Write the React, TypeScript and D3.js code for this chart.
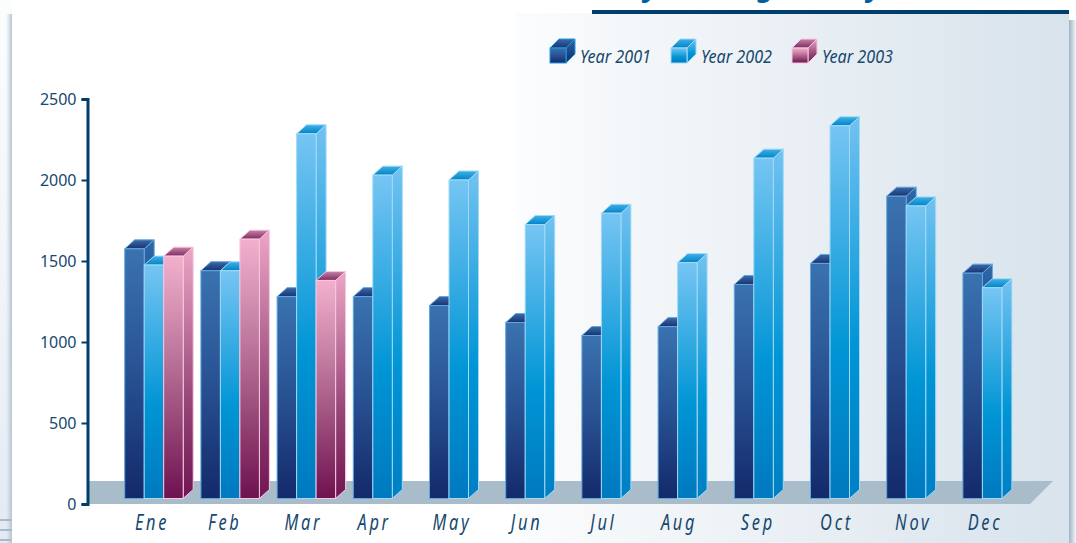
import React, { useRef, useEffect } from 'react';
import * as d3 from 'd3';

const months = ['Ene', 'Feb', 'Mar', 'Apr', 'May', 'Jun', 'Jul', 'Aug', 'Sep', 'Oct', 'Nov', 'Dec'];
const seriesNames = ['Year 2001', 'Year 2002', 'Year 2003'];
const year2001 = [1575, 1440, 1280, 1280, 1225, 1120, 1040, 1095, 1355, 1485, 1900, 1425];
const year2002 = [1475, 1440, 2285, 2030, 2000, 1725, 1795, 1490, 2135, 2335, 1840, 1335];
const year2003 = [1530, 1635, 1380];
const yTicks = [0, 500, 1000, 1500, 2000, 2500];

// colores de cada serie: cara frontal, cara lateral, tapa, borde
const palette = [
  {
    front: [[0, '#3a72b0'], [0.5, '#285192'], [1, '#13296a']],
    side: [[0, '#2f66a6'], [1, '#13296a']],
    top: ['#3a6aa8', '#1a3272'],
    edge: '#5fa8de',
    legendEdge: '#1d9be0',
  },
  {
    front: [[0, '#76c5f3'], [0.6, '#0095d5'], [1, '#0079bf']],
    side: [[0, '#72c2f1'], [0.6, '#0095d5'], [1, '#007fc4']],
    top: ['#3fb0e8', '#0083c6'],
    edge: '#a2daf6',
    legendEdge: '#a2daf6',
  },
  {
    front: [[0, '#f3b0cd'], [0.35, '#c47ea3'], [0.6, '#a25682'], [1, '#6e1150']],
    side: [[0, '#eca6c5'], [0.6, '#97487a'], [1, '#701552']],
    top: ['#c983a8', '#7c2a60'],
    edge: '#f8c8de',
    legendEdge: '#f8c8de',
  },
];

const W = 1076;
const H = 543;
const DEPTH_X = 10;
const DEPTH_Y = 9;

const App = () => {
  const svgRef = useRef<SVGSVGElement>(null);

  useEffect(() => {
    const svg = d3.select(svgRef.current);
    svg.selectAll('*').remove();

    const defs = svg.append('defs');

    const addGradient = (id, stops, x2 = 0, y2 = 1) => {
      const g = defs.append('linearGradient').attr('id', id)
        .attr('x1', 0).attr('y1', 0).attr('x2', x2).attr('y2', y2);
      stops.forEach(([o, c, a]) => {
        const s = g.append('stop').attr('offset', o).attr('stop-color', c);
        if (a !== undefined) s.attr('stop-opacity', a);
      });
    };

    palette.forEach((p, i) => {
      addGradient(`front${i}`, p.front);
      addGradient(`side${i}`, p.side);
      addGradient(`top${i}`, [[0, p.top[0]], [1, p.top[1]]]);
    });
    addGradient('panel', [[0, '#ffffff'], [0.475, '#ffffff'], [0.48, '#fbfcfd'], [1, '#d8e3ec']], 1, 0);
    addGradient('outerLeft', [[0, '#fbfdfd'], [0.5, '#f1f5f9'], [1, '#e3eaf3']]);
    addGradient('shadowLeft', [[0, '#c2cfd9', 0], [1, '#b4c4d2', 1]], 1, 0);
    addGradient('shadowRight', [[0, '#9fb3c6'], [1, '#f2f5f8']], 1, 0);

    // fondo de la pagina
    svg.append('rect').attr('width', W).attr('height', H).attr('fill', '#ffffff');
    svg.append('rect').attr('width', 12).attr('height', H).attr('fill', 'url(#outerLeft)');
    svg.append('rect').attr('x', 6).attr('y', 14).attr('width', 6).attr('height', H - 14).attr('fill', 'url(#shadowLeft)');
    svg.append('rect').attr('x', 1069).attr('y', 20).attr('width', 7).attr('height', H - 20).attr('fill', 'url(#shadowRight)');
    d3.range(3).forEach(i => {
      svg.append('rect').attr('x', 0).attr('y', 519 + i * 10).attr('width', 12).attr('height', 2).attr('fill', '#a9bac9');
    });

    // panel
    svg.append('rect').attr('x', 12).attr('y', 13).attr('width', 1057).attr('height', H - 13).attr('fill', 'url(#panel)');

    // restos del titulo recortado
    svg.append('g').attr('font-family', '"Noto Sans", sans-serif').attr('font-weight', 700).attr('font-style', 'italic')
      .attr('font-size', 30).attr('fill', '#00609f')
      .selectAll('text').data([['y', 644], ['g', 757], ['y', 867]]).join('text')
      .attr('x', d => d[1]).attr('y', -4).text(d => d[0]);

    svg.append('rect').attr('x', 592).attr('y', 10).attr('width', 477).attr('height', 4).attr('fill', '#003f6b');

    const y = d3.scaleLinear().domain([0, 2500]).range([504, 99]);
    const floorY = 498.5;

    // suelo
    const floor = d3.path();
    floor.moveTo(88, y(0));
    floor.lineTo(88, 481);
    floor.lineTo(1053, 481);
    floor.lineTo(1030, y(0));
    floor.closePath();
    svg.append('path').attr('d', floor.toString()).attr('fill', '#a9bcca');

    const x0 = d3.scaleBand().domain(months).range([124.7, 1039.1]);
    const x1 = d3.scaleBand().domain(seriesNames).range([0, 58.5]);

    const series = [year2001, year2002, year2003];
    const bars = svg.append('g');

    const poly = (pts) => d3.line()(pts) + 'Z';

    const drawCube = (g, i, left, right, top, bottom, dx, dy, edge) => {
      const p = palette[i];
      g.append('path')
        .attr('d', poly([[right, top], [right + dx, top - dy], [right + dx, bottom - dy], [right, bottom]]))
        .attr('fill', `url(#side${i})`).attr('stroke', edge).attr('stroke-width', 1).attr('stroke-linejoin', 'round');
      g.append('path')
        .attr('d', poly([[left, top], [left + dx, top - dy], [right + dx, top - dy], [right, top]]))
        .attr('fill', `url(#top${i})`).attr('stroke', edge).attr('stroke-width', 1).attr('stroke-linejoin', 'round');
      g.append('rect')
        .attr('x', left).attr('y', top).attr('width', right - left).attr('height', bottom - top)
        .attr('fill', `url(#front${i})`).attr('stroke', edge).attr('stroke-width', 1);
    };

    months.forEach((m, mi) => {
      seriesNames.forEach((name, si) => {
        const v = series[si][mi];
        if (v === undefined) return;
        const left = x0(m) + x1(name);
        drawCube(bars, si, left, left + x1.bandwidth(), y(v), floorY, DEPTH_X, DEPTH_Y, palette[si].edge);
      });
    });

    // eje Y
    const axisY = svg.append('g')
      .attr('transform', 'translate(87.5,0)')
      .call(d3.axisLeft(y).tickValues(yTicks).tickSize(6).tickPadding(5).tickFormat(d3.format('d')));
    axisY.select('.domain').attr('stroke', '#003f6b').attr('stroke-width', 3);
    axisY.selectAll('.tick line').attr('stroke', '#003f6b').attr('stroke-width', 2);
    axisY.selectAll('text')
      .attr('font-family', '"Noto Sans", sans-serif').attr('font-size', 16)
      .attr('fill', '#17486f');

    // etiquetas de meses (estrechadas, la fuente original es condensada)
    const labelX = d3.scalePoint().domain(months).range([152, 985]);
    const labelDx = [0, -3, 0, -5, -3, -4, -3, -3, 0, 3, 4, 0];
    svg.append('g').selectAll('text').data(months).join('text')
      .attr('transform', (d, i) => `translate(${labelX(d) + labelDx[i]},530) scale(0.78,1)`)
      .attr('text-anchor', 'middle')
      .attr('font-family', '"Noto Sans", sans-serif')
      .attr('font-style', 'italic').attr('font-size', 21).attr('letter-spacing', 3.5)
      .attr('fill', '#17486f').text(d => d);

    // leyenda
    const legendX = d3.scalePoint().domain(seriesNames).range([550, 792]);
    seriesNames.forEach((name, i) => {
      const g = svg.append('g');
      const lx = legendX(name);
      drawCube(g, i, lx, lx + 16, 48, 63, 9, 9, palette[i].legendEdge);
      g.append('text').attr('x', lx + 30).attr('y', 63)
        .attr('font-family', '"Noto Sans", sans-serif')
        .attr('font-style', 'italic').attr('font-size', 18)
        .attr('textLength', 71).attr('lengthAdjust', 'spacingAndGlyphs')
        .attr('fill', '#17486f').text(name);
    });
  }, []);

  return <svg ref={svgRef} width={W} height={H} style={{ position: 'absolute', left: 0, top: 0 }}></svg>;
};

export default App;
